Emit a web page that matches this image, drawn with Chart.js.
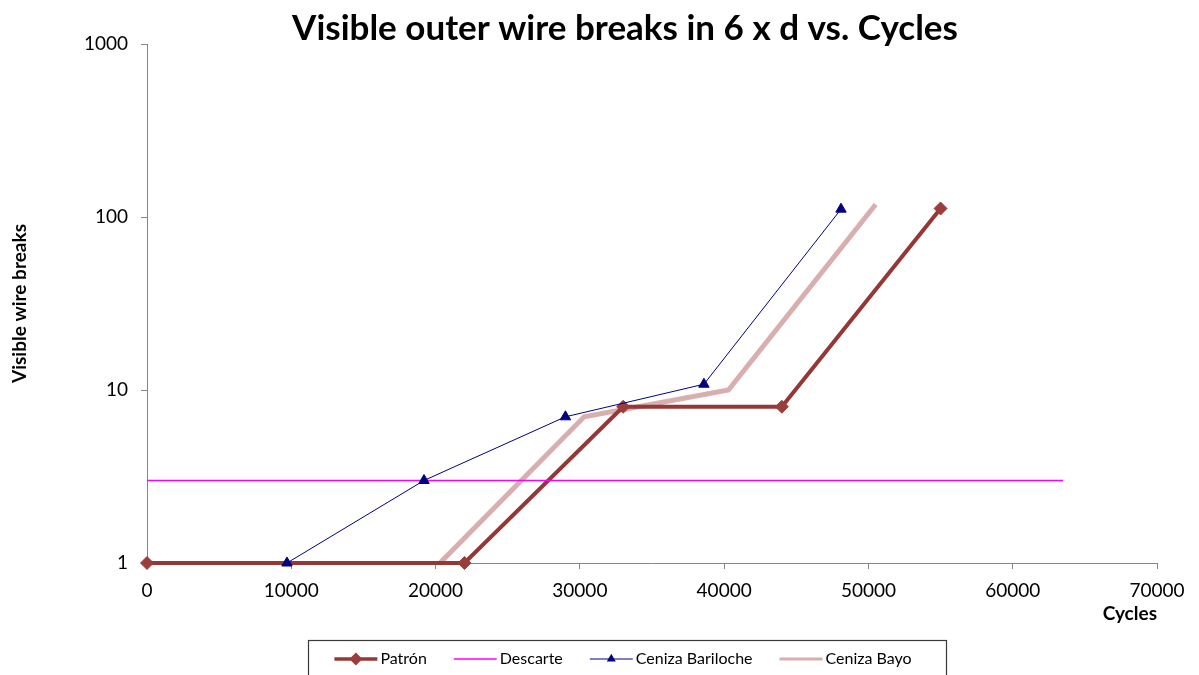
<!DOCTYPE html>
<html>
<head>
<meta charset="utf-8">
<script src="https://cdn.jsdelivr.net/npm/chart.js@4.4.1/dist/chart.umd.min.js"></script>
<style>
  html, body { margin: 0; padding: 0; background: #ffffff; }
  #wrap { width: 1199px; height: 675px; position: relative; }
</style>
</head>
<body>
<div id="wrap"><canvas id="c" width="1199" height="675"></canvas></div>
<script>
// ---- Data ----
const chartTitle = 'Visible outer wire breaks in 6 x d vs. Cycles';
const xAxisTitle = 'Cycles';
const yAxisTitle = 'Visible wire breaks';
const seriesNames = ['Patrón', 'Descarte', 'Ceniza Bariloche', 'Ceniza Bayo'];

const patronX = [0, 22000, 33000, 44000, 55000];
const patronY = [1, 1, 8, 8, 112];

const descarteX = [0, 63500];
const descarteY = [3, 3];

const barilocheX = [9700, 19200, 29000, 38600, 48100];
const barilocheY = [1, 3, 7, 10.8, 111];

const bayoX = [20300, 30300, 40300, 50500];
const bayoY = [1, 7, 10, 118];

const xTickValues = [0, 10000, 20000, 30000, 40000, 50000, 60000, 70000];
const yTickValues = [1, 10, 100, 1000];

const toPoints = (xs, ys) => xs.map((x, i) => ({ x: x, y: ys[i] }));

// ---- Custom boxed legend (line + marker + label) ----
const boxedLegend = {
  id: 'boxedLegend',
  afterDraw(chart) {
    const ctx = chart.ctx;
    const dss = chart.data.datasets;
    const font = '16px Lato';
    const lineLen = 43, gapText = 3, gapItem = 27;
    const cy = 659;
    ctx.save();
    ctx.font = font;
    const widths = dss.map(d => ctx.measureText(d.label).width);
    let total = 0;
    widths.forEach((w, i) => { total += lineLen + gapText + w + (i < widths.length - 1 ? gapItem : 0); });
    let x = 623 - total / 2;
    const boxLeft = Math.round(x - 26) + 0.5;
    const boxRight = Math.round(x + total + 34) + 0.5;
    ctx.strokeStyle = '#3a3a3a';
    ctx.lineWidth = 1.2;
    ctx.strokeRect(boxLeft, 640.5, boxRight - boxLeft, 40);
    dss.forEach((d, i) => {
      ctx.strokeStyle = d.borderColor;
      ctx.lineWidth = d.legendLineWidth;
      ctx.beginPath();
      ctx.moveTo(x, cy);
      ctx.lineTo(x + lineLen, cy);
      ctx.stroke();
      if (d.pointRadius > 0) {
        ctx.fillStyle = d.pointBackgroundColor;
        ctx.strokeStyle = d.pointBorderColor;
        Chart.helpers.drawPoint(ctx, { pointStyle: d.pointStyle, radius: 4, rotation: 0, borderWidth: 1 }, x + lineLen / 2, cy);
      }
      ctx.fillStyle = '#000000';
      ctx.textAlign = 'left';
      ctx.textBaseline = 'middle';
      ctx.fillText(d.label, x + lineLen + gapText, cy);
      x += lineLen + gapText + widths[i] + gapItem;
    });
    ctx.restore();
  }
};

const axisColor = '#868686';

new Chart(document.getElementById('c'), {
  type: 'line',
  data: {
    datasets: [
      {
        label: seriesNames[0],
        data: toPoints(patronX, patronY),
        borderColor: '#953735',
        backgroundColor: '#953735',
        borderWidth: 4,
        legendLineWidth: 3.5,
        pointStyle: 'rectRot',
        pointRadius: 6.5,
        pointBackgroundColor: '#9a3d3b',
        pointBorderColor: '#9a3d3b',
        pointBorderWidth: 1,
        clip: false,
        order: 3
      },
      {
        label: seriesNames[1],
        data: toPoints(descarteX, descarteY),
        borderColor: '#ff00ff',
        backgroundColor: '#ff00ff',
        borderWidth: 1.5,
        legendLineWidth: 1.5,
        pointRadius: 0,
        clip: false,
        order: 2
      },
      {
        label: seriesNames[2],
        data: toPoints(barilocheX, barilocheY),
        borderColor: '#000080',
        backgroundColor: '#000080',
        borderWidth: 1,
        legendLineWidth: 1.2,
        pointStyle: 'triangle',
        pointRadius: 6,
        pointBackgroundColor: '#000080',
        pointBorderColor: '#000080',
        pointBorderWidth: 1,
        clip: false,
        order: 1
      },
      {
        label: seriesNames[3],
        data: toPoints(bayoX, bayoY),
        borderColor: '#d9aeae',
        backgroundColor: '#d9aeae',
        borderWidth: 5,
        legendLineWidth: 3,
        pointRadius: 0,
        clip: false,
        order: 4
      }
    ]
  },
  options: {
    responsive: false,
    animation: false,
    events: [],
    layout: { padding: { left: 51, right: 0, top: 0, bottom: 35 } },
    elements: { line: { tension: 0 } },
    plugins: {
      legend: { display: false },
      tooltip: { enabled: false },
      title: {
        display: true,
        text: chartTitle,
        color: '#000000',
        font: { family: 'Lato', size: 35, weight: 'bold' },
        padding: { top: 8, bottom: -6 }
      }
    },
    scales: {
      x: {
        type: 'linear',
        min: 0,
        max: 70000,
        afterBuildTicks: (scale) => { scale.ticks = xTickValues.map(v => ({ value: v })); },
        afterFit: (scale) => { scale.height = 77; },
        ticks: {
          color: '#000000',
          font: { family: 'Lato', size: 19 },
          padding: 10,
          maxRotation: 0,
          autoSkip: false,
          callback: (v) => String(v)
        },
        grid: { drawOnChartArea: false, drawTicks: true, tickLength: 6, color: axisColor },
        border: { display: true, color: axisColor, width: 1 },
        title: {
          display: true,
          text: xAxisTitle,
          align: 'end',
          color: '#000000',
          font: { family: 'Lato', size: 19, weight: 'bold' },
          padding: { top: 0, bottom: 14.6 }
        }
      },
      y: {
        type: 'logarithmic',
        min: 1,
        max: 1000,
        afterBuildTicks: (scale) => { scale.ticks = yTickValues.map(v => ({ value: v })); },
        afterFit: (scale) => { scale.width = 96; },
        ticks: {
          color: '#000000',
          font: { family: 'Lato', size: 19 },
          padding: 13,
          autoSkip: false,
          callback: (v) => String(v)
        },
        grid: { drawOnChartArea: false, drawTicks: true, tickLength: 6, color: axisColor },
        border: { display: true, color: axisColor, width: 1 },
        title: {
          display: true,
          text: yAxisTitle,
          color: '#000000',
          font: { family: 'Lato', size: 19, weight: 'bold' },
          padding: { top: -42.4, bottom: 0 }
        }
      },
      yRightSpace: {
        type: 'linear',
        position: 'right',
        display: true,
        afterFit: (scale) => { scale.width = 42; },
        ticks: { display: false },
        grid: { display: false, drawTicks: false },
        border: { display: false },
        title: { display: false }
      }
    }
  },
  plugins: [boxedLegend]
});
</script>
</body>
</html>
